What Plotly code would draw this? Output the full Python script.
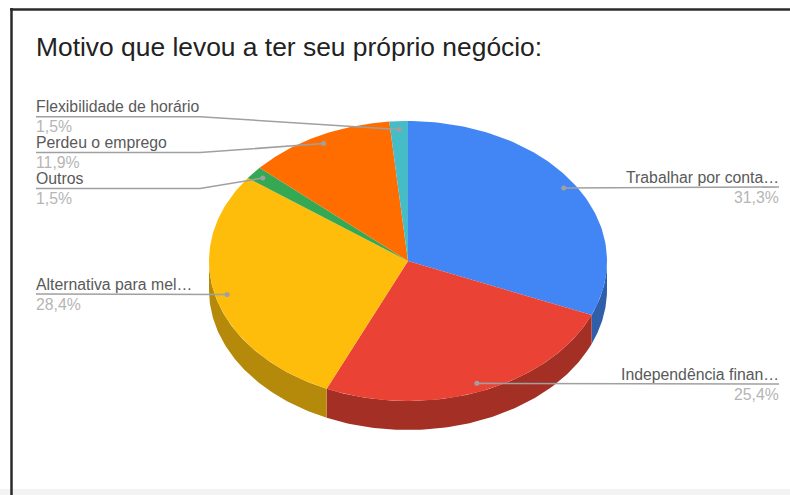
import numpy as np
import plotly.graph_objects as go

# Survey answers, clockwise from twelve o'clock
labels = ["Trabalhar por conta…", "Independência finan…", "Alternativa para mel…",
          "Outros", "Perdeu o emprego", "Flexibilidade de horário"]
values = [31.3, 25.4, 28.4, 1.5, 11.9, 1.5]
top_colors = ["#4285f4", "#ea4335", "#fdbd0a", "#34a853", "#ff6d01", "#46bdc6"]
side_colors = ["#2f5eab", "#a42f25", "#b58a0a", "#247639", "#b24c01", "#31848b"]
title = "Motivo que levou a ter seu próprio negócio:"

# Projected disc geometry, in page pixels
CX, CY, RX, RY, DEPTH = 408, 261, 199, 140, 29
LEFT_X, RIGHT_X, ELBOW_X = 36, 779, 200
INNER = 0.94
# Baseline of each callout: (side, y)
callouts = [("r", 187), ("r", 384), ("l", 294), ("l", 188.5), ("l", 152.5), ("l", 116.7)]
NAME_COLOR, PCT_COLOR, LEADER_COLOR = "#595959", "#b5b5b5", "#a0a0a0"
FONT = "Liberation Sans"
TEXT_PAD = 2  # annotations sit this far inside their anchor


def rim(a0, a1, n=90):
    t = np.radians(np.linspace(a0, a1, n))
    return CX + RX * np.sin(t), CY - RY * np.cos(t)


fig = go.Figure()
edges = np.cumsum([0] + values) / sum(values) * 360

# Front wall of the disc: only the part of each slice facing the viewer
for i in range(len(values)):
    a0, a1 = max(edges[i], 90), min(edges[i + 1], 270)
    if a1 <= a0:
        continue
    x, y = rim(a0, a1)
    fig.add_trace(go.Scatter(
        x=np.r_[x, x[::-1]], y=np.r_[y, y[::-1] + DEPTH], fill="toself", mode="lines",
        line=dict(width=0), fillcolor=side_colors[i], hoverinfo="skip", showlegend=False))

# Top face
for i, name in enumerate(labels):
    x, y = rim(edges[i], edges[i + 1])
    fig.add_trace(go.Scatter(
        x=np.r_[CX, x, CX], y=np.r_[CY, y, CY], fill="toself", mode="lines",
        line=dict(width=0), fillcolor=top_colors[i], name=name,
        hoverinfo="skip", showlegend=False))

# Leader lines and their callout text
annotations = []
for i, (side, ly) in enumerate(callouts):
    mid = np.radians((edges[i] + edges[i + 1]) / 2)
    px = CX + INNER * RX * np.sin(mid)
    py = CY - INNER * RY * np.cos(mid)
    if side == "l":
        lx, lxa, anchor = [LEFT_X, ELBOW_X, px], LEFT_X - TEXT_PAD, "left"
        ly_path = [ly, ly, py]
    else:
        lx, lxa, anchor = [RIGHT_X, px], RIGHT_X + TEXT_PAD, "right"
        ly_path = [ly, py]
    fig.add_trace(go.Scatter(x=lx, y=ly_path, mode="lines", line=dict(color=LEADER_COLOR, width=1.6),
                             hoverinfo="skip", showlegend=False))
    fig.add_trace(go.Scatter(x=[px], y=[py], mode="markers", marker=dict(color=LEADER_COLOR, size=5),
                             hoverinfo="skip", showlegend=False))
    pct = f"{values[i]:.1f}%".replace(".", ",")
    for text, dy, color in ((labels[i], -10, NAME_COLOR), (pct, 10, PCT_COLOR)):
        annotations.append(dict(x=lxa, y=ly + dy, text=text, xanchor=anchor, yanchor="middle",
                                xref="x", yref="y", showarrow=False,
                                font=dict(family=FONT, size=15.8, color=color)))

annotations.append(dict(x=LEFT_X - TEXT_PAD, y=47, text=title, xanchor="left", yanchor="middle",
                        xref="x", yref="y", showarrow=False,
                        font=dict(family=FONT, size=26.4, color="#222222")))

# Frame round the card and the strip below it
shapes = [
    dict(type="rect", x0=0, x1=790, y0=489, y1=495, line_width=0, fillcolor="#f3f3f3", layer="below"),
    dict(type="line", x0=11.5, x1=11.5, y0=8, y1=495, line=dict(color="#2b2b2b", width=2.5)),
    dict(type="line", x0=10, x1=790, y0=9.5, y1=9.5, line=dict(color="#2b2b2b", width=2.5)),
]

fig.update_layout(
    width=790, height=495, margin=dict(l=0, r=0, t=0, b=0),
    paper_bgcolor="white", plot_bgcolor="white",
    xaxis=dict(range=[0, 790], visible=False, fixedrange=True),
    yaxis=dict(range=[495, 0], visible=False, fixedrange=True),
    annotations=annotations, shapes=shapes)

fig.write_html("out.html", config=dict(displayModeBar=False))
